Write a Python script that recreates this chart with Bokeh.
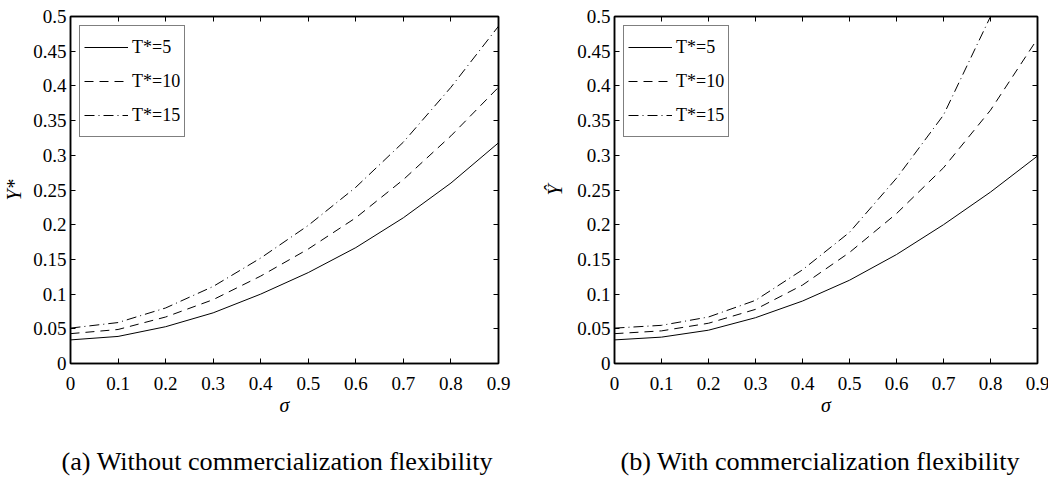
from bokeh.plotting import figure
from bokeh.layouts import row
from bokeh.models import Range1d, FixedTicker, LinearAxis, Legend, LegendItem, Title
from bokeh.embed import file_html
from bokeh.resources import INLINE

# sigma grid shared by every curve
sigma = [0.0, 0.1, 0.2, 0.3, 0.4, 0.5, 0.6, 0.7, 0.8, 0.9]

# panel (a): without commercialization flexibility
ystar_t5 = [0.034, 0.039, 0.053, 0.073, 0.100, 0.131, 0.167, 0.210, 0.260, 0.318]
ystar_t10 = [0.043, 0.049, 0.067, 0.092, 0.126, 0.165, 0.210, 0.265, 0.328, 0.398]
ystar_t15 = [0.051, 0.059, 0.080, 0.111, 0.152, 0.199, 0.254, 0.319, 0.398, 0.486]

# panel (b): with commercialization flexibility (T*=15 leaves the axes after 0.8)
sigma_b15 = [0.0, 0.1, 0.2, 0.3, 0.4, 0.5, 0.6, 0.7, 0.8]
yhat_t5 = [0.034, 0.038, 0.048, 0.066, 0.090, 0.120, 0.157, 0.200, 0.247, 0.299]
yhat_t10 = [0.043, 0.047, 0.058, 0.078, 0.113, 0.160, 0.216, 0.282, 0.365, 0.468]
yhat_t15 = [0.051, 0.055, 0.067, 0.091, 0.135, 0.189, 0.267, 0.358, 0.500]

series_labels = ["T*=5", "T*=10", "T*=15"]
x_ticks = [0.0, 0.1, 0.2, 0.3, 0.4, 0.5, 0.6, 0.7, 0.8, 0.9]
x_tick_labels = ["0", "0.1", "0.2", "0.3", "0.4", "0.5", "0.6", "0.7", "0.8", "0.9"]
y_ticks = [0.0, 0.05, 0.1, 0.15, 0.2, 0.25, 0.3, 0.35, 0.4, 0.45, 0.5]
y_tick_labels = ["0", "0.05", "0.1", "0.15", "0.2", "0.25", "0.3", "0.35", "0.4", "0.45", "0.5"]

FONT = "'Liberation Serif'"
DASHES = ["solid", "9 6", "10 4 1 4"]


def style_axis(ax, ticks, labels, show_labels):
    ax.ticker = FixedTicker(ticks=ticks)
    ax.major_label_overrides = {t: s for t, s in zip(ticks, labels)}
    ax.major_tick_in = 5
    ax.major_tick_out = 0
    ax.minor_tick_line_color = None
    ax.axis_line_color = "black"
    ax.axis_line_width = 1.5
    ax.major_tick_line_color = "black"
    ax.major_label_text_font = FONT
    ax.major_label_text_font_size = "19px"
    ax.major_label_text_color = "black"
    if not show_labels:
        ax.major_label_text_color = None
        ax.major_label_text_font_size = "0px"
        ax.major_label_standoff = 0


def panel(xs_list, ys_list, ylabel, caption, left, fw, right, cap_offset, ylab_standoff):
    p = figure(frame_width=fw, frame_height=347,
               x_range=Range1d(0, 0.9), y_range=Range1d(0, 0.5),
               output_backend="svg", toolbar_location=None,
               min_border_left=left, min_border_right=right,
               min_border_top=16, min_border_bottom=119)
    p.grid.visible = False
    p.outline_line_color = "black"
    p.outline_line_width = 1.5
    p.background_fill_color = "white"
    p.border_fill_color = "white"

    bottom_ax = p.below[0]
    left_ax = p.left[0]
    style_axis(bottom_ax, x_ticks, x_tick_labels, True)
    style_axis(left_ax, y_ticks, y_tick_labels, True)
    bottom_ax.major_label_standoff = 13
    left_ax.major_label_standoff = 4

    top_ax = LinearAxis()
    style_axis(top_ax, x_ticks, x_tick_labels, False)
    p.add_layout(top_ax, "above")
    right_ax = LinearAxis()
    style_axis(right_ax, y_ticks, y_tick_labels, False)
    p.add_layout(right_ax, "right")

    bottom_ax.axis_label = "σ"
    left_ax.axis_label = ylabel
    for ax, st in ((bottom_ax, 1), (left_ax, ylab_standoff)):
        ax.axis_label_text_font = FONT
        ax.axis_label_text_font_size = "20px"
        ax.axis_label_text_font_style = "italic"
        ax.axis_label_text_color = "black"
        ax.axis_label_standoff = st

    items = []
    for xs, ys, dash, lab in zip(xs_list, ys_list, DASHES, series_labels):
        r = p.line(xs, ys, line_color="black", line_width=1, line_dash=dash)
        items.append(LegendItem(label=lab, renderers=[r]))

    leg = Legend(items=items, location="top_left", margin=9, padding=4,
                 spacing=0, label_height=34, glyph_height=34, glyph_width=44,
                 label_standoff=4, border_line_color="black", border_line_width=1,
                 background_fill_color="white", background_fill_alpha=1,
                 label_text_font=FONT, label_text_font_size="18px",
                 label_text_color="black")
    p.add_layout(leg)

    p.add_layout(Title(text=caption, align="left", offset=cap_offset,
                       text_font=FONT, text_font_size="26.2px",
                       text_font_style="normal", text_color="black",
                       standoff=52), "below")
    return p


pa = panel([sigma, sigma, sigma], [ystar_t5, ystar_t10, ystar_t15], "Y*",
           "(a) Without commercialization flexibility", 67, 428, 29, -9, 5)
pb = panel([sigma, sigma, sigma_b15], [yhat_t5, yhat_t10, yhat_t15], "Ŷ",
           "(b) With commercialization flexibility", 87, 423, 14, 6, 8)

layout = row(pa, pb, spacing=0)
open("out.html", "w").write(file_html(layout, INLINE))
